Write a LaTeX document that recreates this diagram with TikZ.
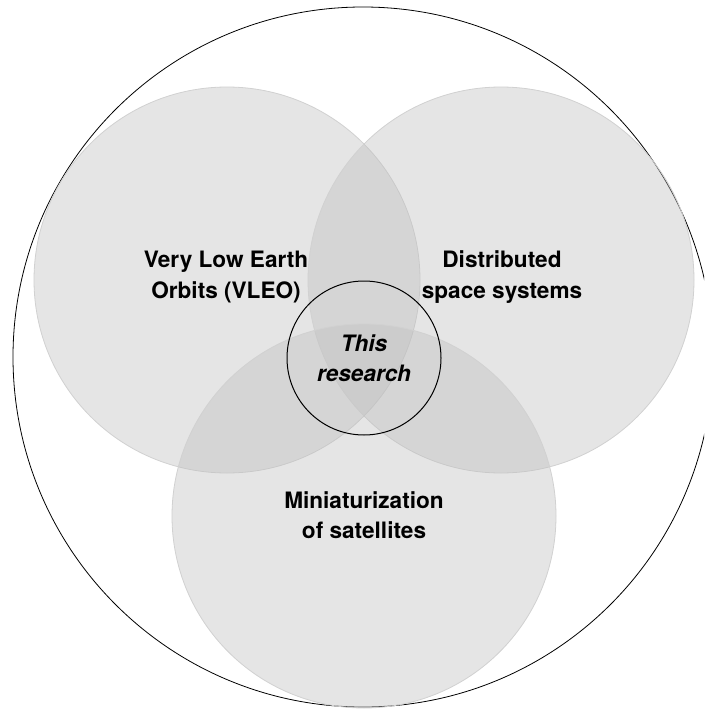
\documentclass[tikz,border=0pt]{standalone}
\usepackage{fontspec}
\setmainfont{TeX Gyre Heros}
\begin{document}
\begin{tikzpicture}[x=1pt,y=1pt,
  setc/.style={circle, draw=black!18, line width=0.8pt, fill=black!25, fill opacity=0.4, draw opacity=1, minimum size=#1, inner sep=0pt},
  lbl/.style={font=\fontsize{22.6}{30.5}\selectfont\bfseries, align=center, text=black, text opacity=1},
  ring/.style={circle, draw=black, inner sep=0pt, minimum size=#1}]
\useasboundingbox (0,0) rectangle (704,-709);
\clip (0,0) rectangle (704,-709);
\fill[white] (0,0) rectangle (704,-709);
\node[ring=700pt, line width=0.8pt] (outer) at (363,-357) {};
\node[setc=386pt] (vleo) at (227,-280) {};
\node[setc=386pt] (dss) at (501,-280) {};
\node[setc=384pt] (mini) at (364,-516) {};
\node[ring=154pt, line width=1pt] (core) at (364,-358) {};
\node[lbl] (tvleo) at (226,-277) {Very Low Earth\\Orbits (VLEO)};
\node[lbl] (tdss) at (502,-277) {Distributed\\space systems};
\node[lbl] (tmini) at (364,-515) {Miniaturization\\of satellites};
\node[lbl, font=\fontsize{22.6}{30.5}\selectfont\bfseries\itshape] (tcore) at (364,-358) {This\\research};
\end{tikzpicture}
\end{document}
